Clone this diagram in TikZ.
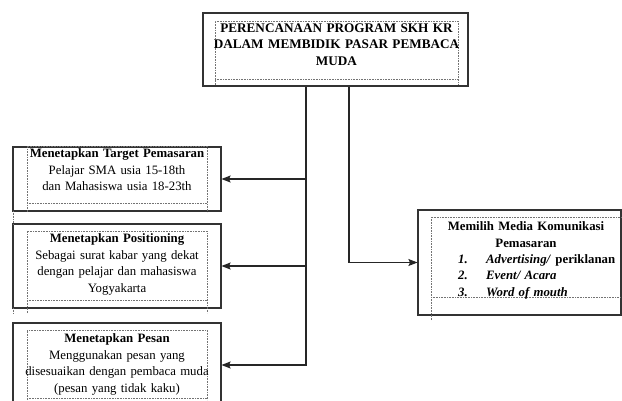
\documentclass[tikz,border=0pt]{standalone}
\usepackage{fontspec}
\setmainfont{Liberation Serif}
\usetikzlibrary{arrows.meta,positioning}
\tikzset{
    %Define standard arrow tip
    >={Stealth[length=9pt,width=7pt,inset=1.5pt]},
    %Define style for outer frames
    frame/.style={
           rectangle,
           draw=black!80, line width=1.1pt,
           inner sep=0pt,
           minimum width=208pt},
    %Define style for the texts
    isi/.style={
           inner sep=0pt,
           anchor=north,
           text width=192pt,
           align=center,
           font=\fontsize{12.8}{16.7}\selectfont},
    %Define style for the dotted text borders
    titik/.style={
           draw=black!55, densely dotted, line width=0.6pt},
    % Define arrow style
    pil/.style={
           ->,
           draw=black!85,
           line width=1.1pt}
}
\begin{document}
\begin{tikzpicture}[x=1pt,y=-1pt]
\useasboundingbox (0,0) rectangle (622,400);
 %frames
\node[frame, minimum width=265pt, minimum height=73pt](plan) at (335.5,49.5){};
\node[frame, minimum height=64pt](target) at (117,179){};
\node[frame, minimum height=84pt](posit) at (117,266){};
\node[frame, minimum height=84pt](pesan) at (117,365){};
\node[frame, minimum width=203pt, minimum height=105pt](media) at (519.5,262.5){};
 %dotted borders
\draw[titik] (215,85) -- (215,21) -- (458,21) -- (458,85) (215,79) -- (458,79);
\draw[titik] (27,212) -- (27,146) -- (207,146) -- (207,212) (27,203) -- (207,203);
\draw[titik] (13,211) -- (13,224);
\draw[titik] (27,313) -- (27,231) -- (207,231) -- (207,313) (27,300) -- (207,300);
\draw[titik] (13,308) -- (13,313);
\draw[titik] (27,400) -- (27,330) -- (207,330) -- (207,400) (27,398) -- (207,398);
\draw[titik] (431,320) -- (431,217) -- (621,217) (431,297) -- (621,297);
 %texts
\node[isi, text width=250pt, font=\bfseries\fontsize{13.2}{16.5}\selectfont](plantext) at (336.5,23.5)
    {PERENCANAAN PROGRAM SKH KR\\ DALAM MEMBIDIK PASAR PEMBACA\\ MUDA};
\node[isi](targettext) at (117,148.5)
    {\textbf{Menetapkan Target Pemasaran}\\ Pelajar SMA usia 15-18th\\ dan Mahasiswa usia 18-23th};
\node[isi](posittext) at (117,233.5)
    {\textbf{Menetapkan Positioning}\\ Sebagai surat kabar yang dekat\\ dengan pelajar dan mahasiswa\\ Yogyakarta};
\node[isi](pesantext) at (117,333.5)
    {\textbf{Menetapkan Pesan}\\ Menggunakan pesan yang\\ disesuaikan dengan pembaca muda\\ (pesan yang tidak kaku)};
\node[isi](mediatext) at (526,221.3)
    {\textbf{Memilih Media Komunikasi}\\ \textbf{Pemasaran}};
\node[isi, anchor=north west, align=left, text width=170pt](medialist) at (458,254)
    {\bfseries\makebox[28pt][l]{\itshape 1.}\textit{Advertising/} periklanan\\
     \makebox[28pt][l]{\itshape 2.}\textit{Event/ Acara}\\
     \makebox[28pt][l]{\itshape 3.}\textit{Word of mouth}};
 %connectors
\coordinate (tl) at ([xshift=-29.5pt]plan.south);
\coordinate (tr) at ([xshift=13.5pt]plan.south);
\draw[pil] (tl) |- (pesan.east);
\draw[pil] (tl |- target.east) -- (target.east);
\draw[pil] (tl |- posit.east) -- (posit.east);
\draw[pil] (tr) |- (media.west);
\end{tikzpicture}
\end{document}
